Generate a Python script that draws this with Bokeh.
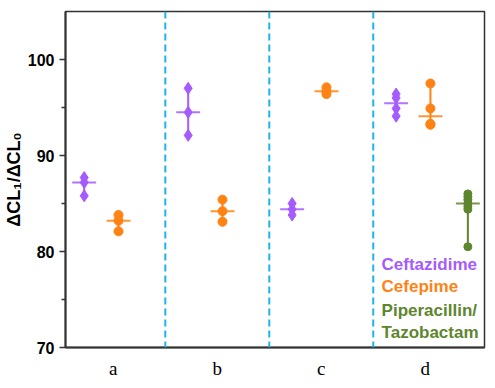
import numpy as np
from bokeh.plotting import figure
from bokeh.models import Range1d, FixedTicker, Span, Label
from bokeh.embed import file_html
from bokeh.resources import INLINE

# ---- data ----
categories = ["a", "b", "c", "d"]
cat_pos = [1, 2, 3, 4]
ceftazidime = [[87.7, 87.2, 85.8], [97.0, 94.5, 92.1], [85.0, 84.4, 83.8], [96.4, 96.0, 94.9, 94.1]]
cefepime = [[83.8, 83.2, 82.1], [85.4, 84.2, 83.1], [97.1, 96.7, 96.4], [97.5, 94.9, 93.3, 93.2]]
piperacillin = [None, None, None, [86.0, 85.7, 85.4, 85.0, 84.7, 84.4, 80.5]]
legend_names = ["Ceftazidime", "Cefepime", "Piperacillin/", "Tazobactam"]

# ---- styles ----
C_CEF = "#A55BFF"
C_CEFE = "#FF8214"
C_PIP = "#5E862E"
series = [
    (ceftazidime, -0.28, C_CEF, "diamond", 12),
    (cefepime, 0.05, C_CEFE, "circle", 9),
    (piperacillin, 0.41, C_PIP, "circle", 8),
]
HALF = 0.115

p = figure(frame_width=419, frame_height=336, x_range=Range1d(0.54, 4.57), y_range=Range1d(70, 105),
           output_backend="svg", toolbar_location=None,
           min_border_left=52, min_border_right=4, min_border_top=11, min_border_bottom=10)
p.xgrid.visible = False
p.ygrid.visible = False
p.background_fill_color = "white"
p.outline_line_color = "#333333"
p.outline_line_width = 1.5

for xv in [1.5, 2.5, 3.5]:
    p.add_layout(Span(location=xv, dimension="height", line_color="#1FB3EE",
                      line_width=2, line_dash="7 4"))

for data, off, col, mk, sz in series:
    for pos, pts in zip(cat_pos, data):
        if pts is None:
            continue
        x = pos + off
        arr = np.array(pts)
        med = float(np.median(arr))
        p.segment(x0=[x], y0=[arr.min()], x1=[x], y1=[arr.max()], line_color=col, line_width=2)
        p.segment(x0=[x - HALF], y0=[med], x1=[x + HALF], y1=[med], line_color=col,
                  line_width=2, line_alpha=0.85)
        p.scatter(x=[x] * len(pts), y=pts, marker=mk, size=sz, fill_color=col,
                  line_color=col)

# axes
p.xaxis.ticker = FixedTicker(ticks=cat_pos)
p.xaxis.major_label_overrides = {pos: c for pos, c in zip(cat_pos, categories)}
p.xaxis.major_tick_line_color = None
p.xaxis.minor_tick_line_color = None
p.xaxis.major_tick_out = 0
p.xaxis.major_tick_in = 0
p.xaxis.major_label_text_font = "Liberation Serif"
p.xaxis.major_label_text_font_size = "19px"
p.xaxis.major_label_text_color = "black"
p.xaxis.major_label_standoff = 10
p.xaxis.axis_label_standoff = 0
p.xaxis.axis_line_width = 2
p.xaxis.axis_line_color = "#333333"

p.yaxis.ticker = FixedTicker(ticks=[70, 80, 90, 100], minor_ticks=[75, 85, 95])
p.yaxis.major_tick_out = 6
p.yaxis.major_tick_in = 0
p.yaxis.minor_tick_out = 4
p.yaxis.minor_tick_in = 0
p.yaxis.major_tick_line_width = 1.5
p.yaxis.minor_tick_line_width = 1.5
p.yaxis.major_tick_line_color = "#333333"
p.yaxis.minor_tick_line_color = "#333333"
p.yaxis.axis_line_width = 2
p.yaxis.axis_line_color = "#333333"
p.yaxis.major_label_text_font = "Liberation Sans"
p.yaxis.major_label_text_font_style = "bold"
p.yaxis.major_label_text_font_size = "16px"
p.yaxis.major_label_text_color = "black"
p.yaxis.major_label_standoff = 5
p.yaxis.axis_label = "ΔCL₁/ΔCL₀"
p.yaxis.axis_label_text_font = "Liberation Sans"
p.yaxis.axis_label_text_font_style = "bold"
p.yaxis.axis_label_text_font_size = "18px"
p.yaxis.axis_label_text_color = "black"
p.yaxis.axis_label_standoff = 1

# legend texts
leg_cols = [C_CEF, C_CEFE, C_PIP, C_PIP]
leg_y = [78.6, 76.4, 73.9, 71.6]
for name, col, yy in zip(legend_names, leg_cols, leg_y):
    p.add_layout(Label(x=3.58, y=yy, text=name, text_color=col, text_font="Liberation Sans",
                       text_font_style="bold", text_font_size="17px", text_baseline="middle"))

open("out.html", "w").write(file_html(p, INLINE))
